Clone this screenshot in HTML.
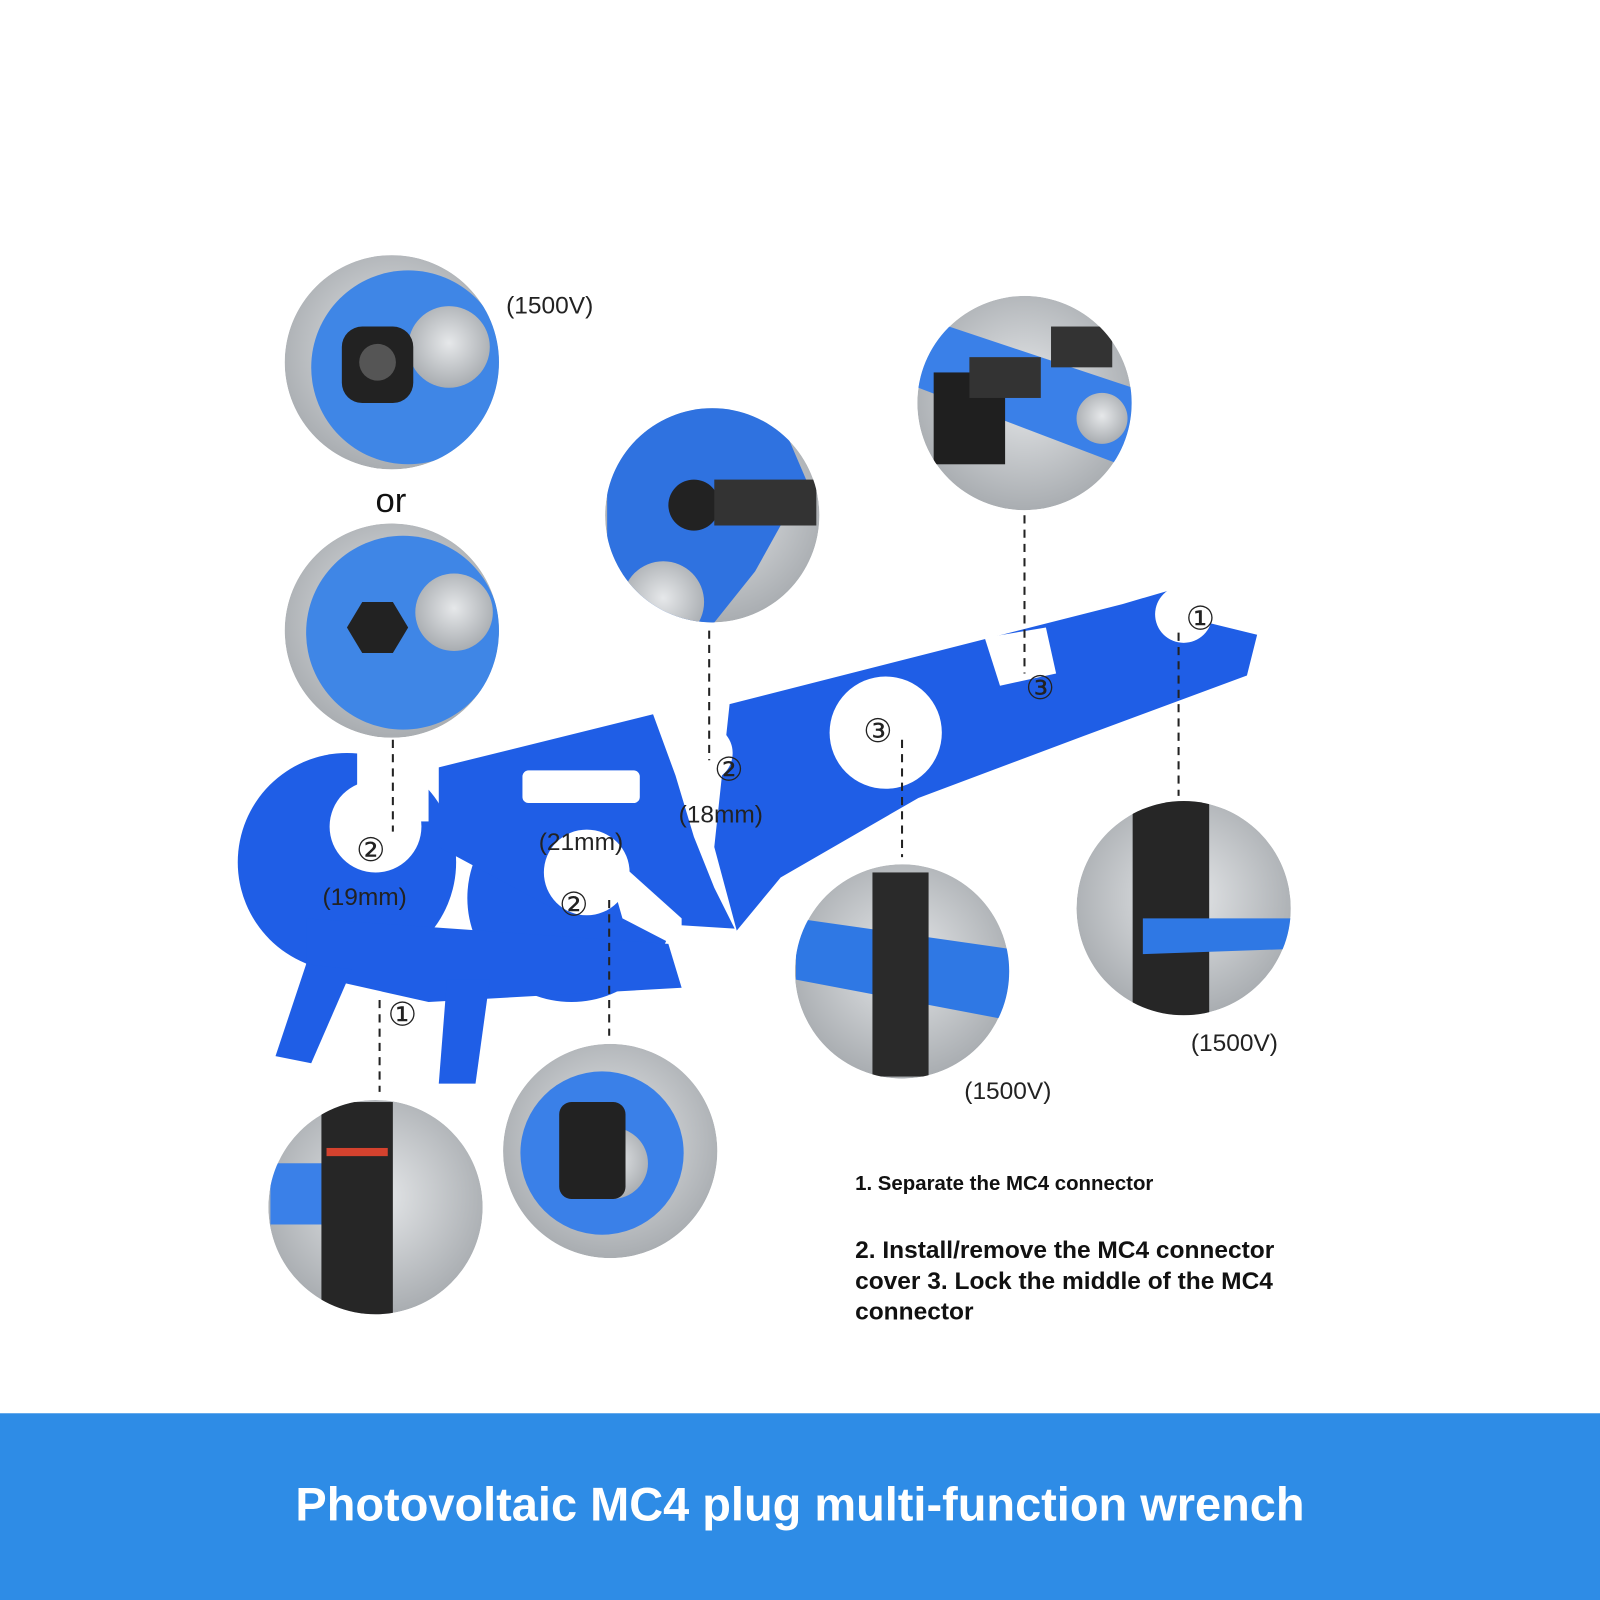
<!DOCTYPE html>
<html><head><meta charset="utf-8"><style>
html,body{margin:0;padding:0;background:#fff;}
#w{width:1568px;height:1568px;position:relative;transform:scale(1.020408);transform-origin:0 0;font-family:"Liberation Sans",sans-serif;}
.t{position:absolute;font-size:24px;color:#222;white-space:nowrap;}
.c{position:absolute;font-size:32px;color:#222;font-family:"DejaVu Sans",sans-serif;line-height:32px;}
.bar{position:absolute;left:0;top:1385px;width:1568px;height:183px;background:#2e8ce6;}
.title{position:absolute;left:0;width:1568px;top:1447px;text-align:center;color:#fff;font-weight:bold;font-size:46px;}
.n{position:absolute;font-weight:bold;font-size:20px;color:#111;}
.n2{position:absolute;font-weight:bold;font-size:24px;color:#111;line-height:30px;width:460px;}
</style></head><body><div id="w">
<svg width="1568" height="1568" style="position:absolute;left:0;top:0">
<defs>
<radialGradient id="g" cx="50%" cy="45%" r="55%"><stop offset="0" stop-color="#e6e8ea"/><stop offset="1" stop-color="#a9adb1"/></radialGradient>
<clipPath id="k1"><circle cx="384" cy="355" r="105"/></clipPath>
<clipPath id="k2"><circle cx="384" cy="618" r="105"/></clipPath>
<clipPath id="k3"><circle cx="698" cy="505" r="105"/></clipPath>
<clipPath id="k4"><circle cx="1004" cy="395" r="105"/></clipPath>
<clipPath id="k5"><circle cx="1160" cy="890" r="105"/></clipPath>
<clipPath id="k6"><circle cx="884" cy="952" r="105"/></clipPath>
<clipPath id="k7"><circle cx="598" cy="1128" r="105"/></clipPath>
<clipPath id="k8"><circle cx="368" cy="1183" r="105"/></clipPath>
</defs>
<g clip-path="url(#k1)"><circle cx="384" cy="355" r="105" fill="url(#g)"/><circle cx="400" cy="360" r="95" fill="#3f86e6"/><circle cx="440" cy="340" r="40" fill="url(#g)"/><rect x="335" y="320" width="70" height="75" rx="20" fill="#222"/><circle cx="370" cy="355" r="18" fill="#555"/></g>
<g clip-path="url(#k2)"><circle cx="384" cy="618" r="105" fill="url(#g)"/><circle cx="395" cy="620" r="95" fill="#3f86e6"/><circle cx="445" cy="600" r="38" fill="url(#g)"/><polygon points="340,615 355,590 385,590 400,615 385,640 355,640" fill="#222"/></g>
<g clip-path="url(#k3)"><circle cx="698" cy="505" r="105" fill="url(#g)"/><path d="M595,400 L760,400 L790,470 L740,560 L700,610 L595,610Z" fill="#2f72e0"/><circle cx="650" cy="590" r="40" fill="url(#g)"/><circle cx="680" cy="495" r="25" fill="#222"/><rect x="700" y="470" width="100" height="45" fill="#333"/></g>
<g clip-path="url(#k4)"><circle cx="1004" cy="395" r="105" fill="url(#g)"/><polygon points="900,310 1110,380 1110,460 900,380" fill="#3a80e8"/><circle cx="1080" cy="410" r="25" fill="url(#g)"/><rect x="915" y="365" width="70" height="90" fill="#1f1f1f"/><rect x="950" y="350" width="70" height="40" fill="#333"/><rect x="1030" y="320" width="60" height="40" fill="#333"/></g>
<g clip-path="url(#k5)"><circle cx="1160" cy="890" r="105" fill="url(#g)"/><rect x="1110" y="785" width="75" height="210" fill="#262626"/><polygon points="1120,900 1265,900 1265,930 1120,935" fill="#2f78e4"/></g>
<g clip-path="url(#k6)"><circle cx="884" cy="952" r="105" fill="url(#g)"/><polygon points="780,900 990,930 990,1000 780,960" fill="#2f78e4"/><rect x="855" y="855" width="55" height="200" fill="#2a2a2a"/></g>
<g clip-path="url(#k7)"><circle cx="598" cy="1128" r="105" fill="url(#g)"/><circle cx="590" cy="1130" r="80" fill="#3a80e8"/><circle cx="600" cy="1140" r="35" fill="url(#g)"/><rect x="548" y="1080" width="65" height="95" rx="12" fill="#222"/></g>
<g clip-path="url(#k8)"><circle cx="368" cy="1183" r="105" fill="url(#g)"/><rect x="265" y="1140" width="90" height="60" fill="#3a80e8"/><rect x="315" y="1080" width="70" height="210" fill="#262626"/><rect x="320" y="1125" width="60" height="8" fill="#d4422e"/></g>
<g fill="#1f5ee6">
<circle cx="340" cy="845" r="107"/>
<circle cx="560" cy="880" r="102"/>
<polygon points="300,900 655,925 668,968 420,982 300,955"/>
<polygon points="270,1035 300,945 345,950 305,1042"/>
<polygon points="430,1062 438,960 480,960 466,1062"/>
<polygon points="430,752 640,700 662,760 680,820 700,870 720,910 560,900 430,830"/>
<polygon points="715,690 1100,592 1165,573 1175,585 1150,602 1232,622 1222,662 1060,722 900,782 765,860 722,912 700,830"/>
</g>
<g fill="#fff">
<circle cx="368" cy="810" r="45"/>
<rect x="350" y="735" width="70" height="70"/>
<circle cx="575" cy="855" r="42"/>
<polygon points="590,830 668,900 668,930 610,900"/>
<circle cx="868" cy="718" r="55"/>
<polygon points="965,625 1025,615 1035,660 980,672"/>
<circle cx="1160" cy="602" r="28"/>
<rect x="1150" y="560" width="30" height="40"/>
<rect x="512" y="755" width="115" height="32" rx="6"/>
<circle cx="690" cy="738" r="28"/>
</g>
<g stroke="#222" stroke-width="2" stroke-dasharray="8,6">
<line x1="385" y1="725" x2="385" y2="815"/>
<line x1="695" y1="618" x2="695" y2="745"/>
<line x1="1004" y1="505" x2="1004" y2="660"/>
<line x1="1155" y1="620" x2="1155" y2="780"/>
<line x1="884" y1="725" x2="884" y2="840"/>
<line x1="597" y1="882" x2="597" y2="1015"/>
<line x1="372" y1="980" x2="372" y2="1070"/>
</g>
</svg>
<div class="t" style="left:496px;top:286px">(1500V)</div>
<div class="t" style="left:368px;top:472px;font-size:34px;color:#111">or</div>
<div class="t" style="left:316px;top:866px">(19mm)</div>
<div class="t" style="left:528px;top:812px">(21mm)</div>
<div class="t" style="left:665px;top:785px">(18mm)</div>
<div class="t" style="left:945px;top:1056px">(1500V)</div>
<div class="t" style="left:1167px;top:1009px">(1500V)</div>
<div class="c" style="left:349px;top:817px">②</div>
<div class="c" style="left:548px;top:870px">②</div>
<div class="c" style="left:700px;top:738px">②</div>
<div class="c" style="left:380px;top:978px">①</div>
<div class="c" style="left:1162px;top:590px">①</div>
<div class="c" style="left:846px;top:700px">③</div>
<div class="c" style="left:1005px;top:658px">③</div>
<div class="n" style="left:838px;top:1149px">1. Separate the MC4 connector</div>
<div class="n2" style="left:838px;top:1211px">2. Install/remove the MC4 connector cover 3. Lock the middle of the MC4 connector</div>
<div class="bar"></div>
<div class="title">Photovoltaic MC4 plug multi-function wrench</div>
</div></body></html>
